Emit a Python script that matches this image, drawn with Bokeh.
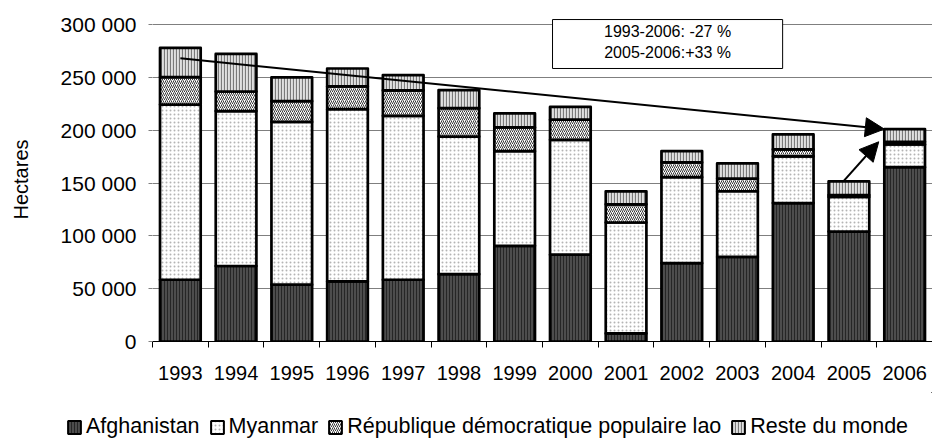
from bokeh.plotting import figure
from bokeh.layouts import column
from bokeh.models import (Range1d, FixedTicker, CustomJSTickFormatter, Legend, LegendItem,
                          Arrow, NormalHead, BoxAnnotation, Label, ColumnDataSource)
from bokeh.embed import file_html
from bokeh.resources import INLINE
import numpy as np

# Opium poppy cultivation, hectares
years = [1993, 1994, 1995, 1996, 1997, 1998, 1999, 2000, 2001, 2002, 2003, 2004, 2005, 2006]
afghanistan = [58416, 71470, 53759, 56824, 58416, 63674, 90583, 82171, 7606, 74100, 80000, 131000, 104000, 165000]
myanmar = [165800, 146600, 154070, 163000, 155150, 130300, 89500, 108700, 105000, 81400, 62200, 44200, 32800, 21500]
lao = [26040, 18520, 19650, 21601, 24082, 26837, 22543, 19052, 17255, 14000, 12000, 6600, 1800, 2500]
rest_of_world = [27654, 35530, 22410, 16930, 14515, 17129, 13252, 12029, 12235, 10725, 14400, 14140, 12900, 12000]

series_names = ["Afghanistan", "Myanmar", "République démocratique populaire lao", "Reste du monde"]
y_ticks = [0, 50000, 100000, 150000, 200000, 250000, 300000]

# Trend annotations
trend_text = ["1993-2006: -27 %", "2005-2006:+33 %"]
trend_start_value = 268000

FONT = "Liberation Sans"
BAR_W = 0.73

styles = [
    dict(fill_color="#4d4d4d", hatch_pattern="vertical_line", hatch_color="#262626", hatch_scale=3, hatch_weight=1),
    dict(fill_color="#ffffff", hatch_pattern="dot", hatch_color="#b4b4b4", hatch_scale=4, hatch_weight=1),
    dict(fill_color="#ffffff", hatch_pattern="right_diagonal_line", hatch_color="#383838", hatch_scale=4, hatch_weight=1),
    dict(fill_color="#e0e0e0", hatch_pattern="vertical_line", hatch_color="#7a7a7a", hatch_scale=3, hatch_weight=1.2),
]

n = len(years)
x = np.arange(n)
stack = np.array([afghanistan, myanmar, lao, rest_of_world], dtype=float)
tops = np.cumsum(stack, axis=0)
bottoms = tops - stack
totals = tops[-1]

MAIN_H = 392
p = figure(width=932, height=MAIN_H, output_backend="svg", toolbar_location=None,
           x_range=Range1d(-0.5, n - 0.5), y_range=Range1d(0, 306625),
           min_border_left=152, min_border_right=0, min_border_top=17, min_border_bottom=51)
p.outline_line_color = None
p.background_fill_color = "white"
p.frame_align = False

for i, name in enumerate(series_names):
    src = ColumnDataSource(dict(x=x, bottom=bottoms[i], top=tops[i]))
    p.vbar(x="x", bottom="bottom", top="top", width=BAR_W, source=src,
           line_color="black", line_width=2.7, line_join="round", **styles[i])

# Axes
p.xgrid.visible = False
p.ygrid.ticker = FixedTicker(ticks=y_ticks)
p.ygrid.grid_line_color = "#7f7f7f"
p.ygrid.grid_line_width = 1

xa = p.xaxis[0]
xa.ticker = FixedTicker(ticks=list(range(n)), minor_ticks=[i - 0.5 for i in range(n + 1)])
xa.major_label_overrides = {i: str(y) for i, y in enumerate(years)}
xa.major_tick_out = 0
xa.major_tick_in = 0
xa.minor_tick_out = 6
xa.minor_tick_in = 0
xa.minor_tick_line_color = "black"
xa.axis_line_color = "black"
xa.major_label_standoff = 18
xa.major_label_text_font = FONT
xa.major_label_text_font_size = "20px"
xa.major_label_text_color = "black"

ya = p.yaxis[0]
ya.ticker = FixedTicker(ticks=y_ticks)
ya.formatter = CustomJSTickFormatter(code="return tick.toFixed(0).replace(/\\B(?=(\\d{3})+(?!\\d))/g, ' ');")
ya.axis_line_color = None
ya.major_tick_out = 4
ya.major_tick_in = 0
ya.major_tick_line_color = "#7f7f7f"
ya.minor_tick_line_color = None
ya.major_label_standoff = 12
ya.major_label_text_font = FONT
ya.major_label_text_font_size = "21px"
ya.major_label_text_color = "black"
ya.axis_label = "Hectares"
ya.axis_label_text_font = FONT
ya.axis_label_text_font_size = "20px"
ya.axis_label_text_font_style = "normal"
ya.axis_label_text_color = "black"
ya.axis_label_standoff = 26

# Trend box
box_left, box_right = 6.68, 10.81
box = BoxAnnotation(left=box_left, right=box_right, bottom=258360, top=304700,
                    fill_color="white", fill_alpha=1, line_color="black", line_width=1, line_alpha=1)
p.add_layout(box)
for txt, yv in zip(trend_text, [293400, 273500]):
    p.add_layout(Label(x=(box_left + box_right) / 2, y=yv, text=txt, text_align="center",
                       text_baseline="middle", text_font=FONT, text_font_size="16px", text_color="black"))

# Arrows
p.add_layout(Arrow(end=NormalHead(size=19, fill_color="black", line_color="black"),
                   x_start=0, y_start=trend_start_value, x_end=n - 1 - BAR_W / 2, y_end=totals[-1],
                   line_color="black", line_width=2))
p.add_layout(Arrow(end=NormalHead(size=19, fill_color="black", line_color="black"),
                   x_start=n - 2 - 0.1, y_start=totals[-2], x_end=n - 1 - BAR_W / 2 - 0.1, y_end=tops[2][-1],
                   line_color="black", line_width=2))

# Legend strip underneath the chart
leg = figure(width=932, height=439 - MAIN_H, output_backend="svg", toolbar_location=None,
             x_range=Range1d(0, 1), y_range=Range1d(0, 1),
             min_border_left=0, min_border_right=0, min_border_top=0, min_border_bottom=0)
leg.frame_align = False
leg.axis.visible = False
leg.grid.visible = False
leg.outline_line_color = None
swatches = []
for i, name in enumerate(series_names):
    # swatch renderers sit outside the visible range; only their legend entries show
    swatches.append(leg.vbar(x=[5], bottom=[5], top=[6], width=0.1, line_color="black", line_width=2, **styles[i]))

legend = Legend(items=[LegendItem(label=nm, renderers=[r]) for nm, r in zip(series_names, swatches)],
                orientation="horizontal", location=(66, 0),
                label_text_font=FONT, label_text_font_size="21.5px", label_text_color="black",
                glyph_width=16, glyph_height=16, label_standoff=4, spacing=9,
                padding=0, margin=0, border_line_color=None, background_fill_alpha=0)
leg.add_layout(legend, "center")

open("out.html", "w").write(file_html(column(p, leg, spacing=0), INLINE))
